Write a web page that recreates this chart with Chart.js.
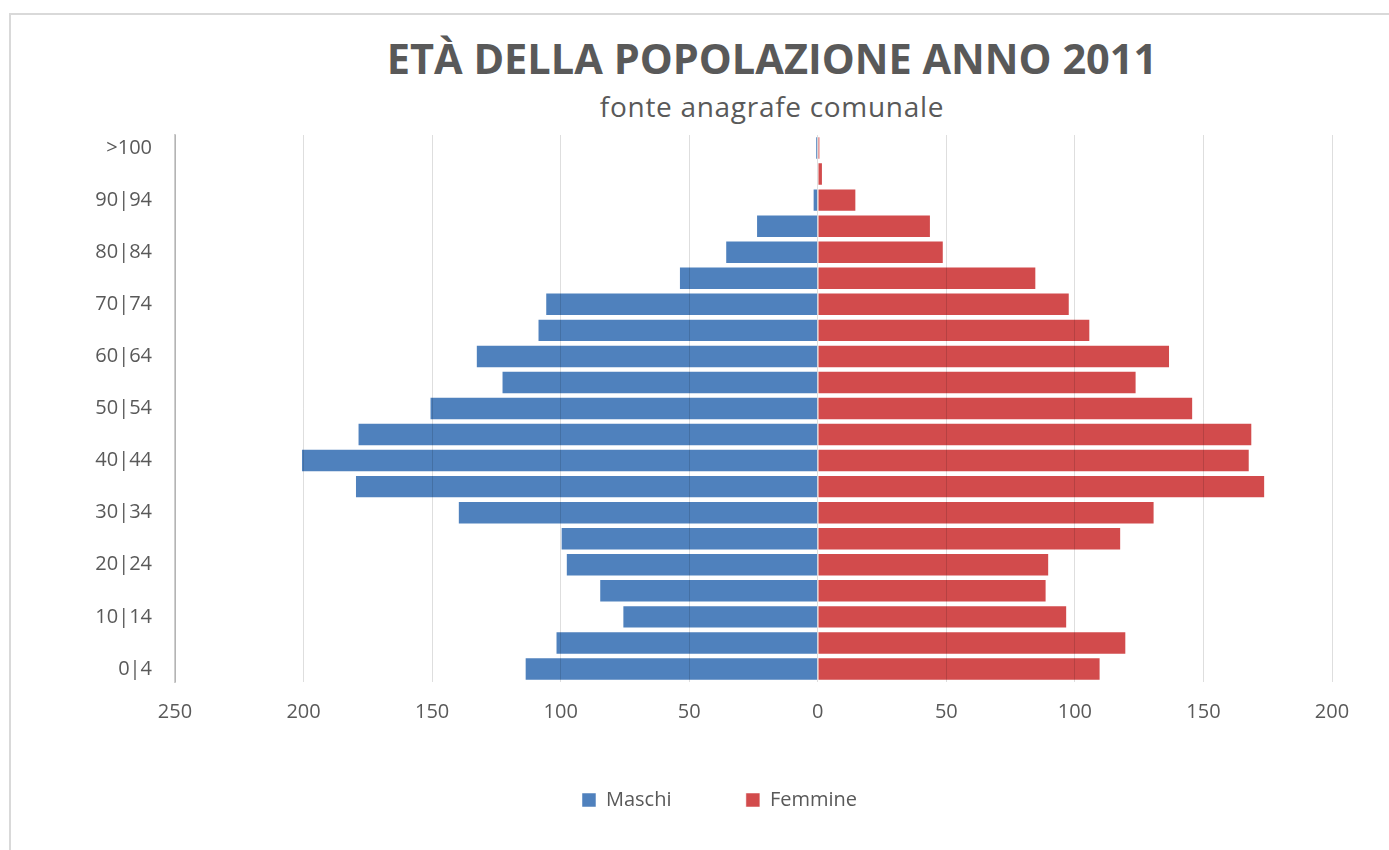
<!DOCTYPE html>
<html>
<head>
<meta charset="utf-8">
<script src="https://cdn.jsdelivr.net/npm/chart.js@4.4.1/dist/chart.umd.min.js"></script>
<style>
  html, body { margin: 0; padding: 0; background: #fff; overflow: hidden; }
  body { width: 1389px; height: 850px; position: relative; }
  #frame { position: absolute; left: 9px; top: 13px; width: 1500px; height: 900px; border: 2px solid #d9d9d9; }
  #chart { position: absolute; left: 0; top: 0; }
  .title { position: absolute; left: 772px; transform: translateX(-50%); white-space: nowrap; color: #595959; font-family: "Open Sans", sans-serif; }
  #t1 { top: 30px; font-size: 41.5px; font-weight: 700; }
  #t2 { top: 87px; font-size: 28px; letter-spacing: 0.7px; }
</style>
</head>
<body>
<div id="frame"></div>
<div class="title" id="t1">ETÀ DELLA POPOLAZIONE ANNO 2011</div>
<div class="title" id="t2">fonte anagrafe comunale</div>
<canvas id="chart" width="1389" height="850"></canvas>
<script>
const ageGroups = ['0|4', '5|9', '10|14', '15|19', '20|24', '25|29', '30|34', '35|39', '40|44', '45|49',
    '50|54', '55|59', '60|64', '65|69', '70|74', '75|79', '80|84', '85|89', '90|94', '95|99', '>100'];
const maschi = [114, 102, 76, 85, 98, 100, 140, 180, 201, 179, 151, 123, 133, 109, 106, 54, 36, 24, 2, 0, 1];
const femmine = [110, 120, 97, 89, 90, 118, 131, 174, 168, 169, 146, 124, 137, 106, 98, 85, 49, 44, 15, 2, 1];
const xTicks = [-250, -200, -150, -100, -50, 0, 50, 100, 150, 200];

const textColor = '#595959';

const ctx = document.getElementById('chart').getContext('2d');
const pyramid = new Chart(ctx, {
    type: 'bar',
    data: {
        labels: ageGroups,
        datasets: [{
            label: 'Maschi',
            data: maschi.map(v => -v),
            backgroundColor: 'rgb(79, 129, 189)',
            borderColor: 'rgba(255, 255, 255, 0.5)',
            borderWidth: 1,
            barPercentage: 0.9,
            categoryPercentage: 1
        }, {
            label: 'Femmine',
            data: femmine,
            backgroundColor: 'rgb(210, 75, 76)',
            borderColor: 'rgba(255, 255, 255, 0.5)',
            borderWidth: 1,
            barPercentage: 0.9,
            categoryPercentage: 1
        }]
    },
    options: {
        indexAxis: 'y',
        responsive: false,
        animation: false,
        devicePixelRatio: 1,
        layout: {
            padding: { left: 62, right: 12, top: 135, bottom: 30 }
        },
        scales: {
            x: {
                stacked: true,
                min: -250,
                max: 200,
                afterBuildTicks: scale => {
                    scale.ticks = xTicks.map(v => ({ value: v }));
                },
                afterFit: scale => { scale.height = 44; },
                grid: {
                    color: 'rgba(0, 0, 0, 0.13)',
                    lineWidth: 1,
                    drawTicks: false,
                    z: 1
                },
                border: { display: false },
                ticks: {
                    color: textColor,
                    padding: 18,
                    font: { family: 'Open Sans', size: 20 },
                    callback: value => Math.abs(value)
                }
            },
            y: {
                stacked: true,
                reverse: true,
                afterFit: scale => { scale.width = 113; },
                grid: { display: false, drawTicks: false },
                border: { display: true, color: '#cfcfcf', width: 2 },
                ticks: {
                    color: textColor,
                    padding: 23,
                    autoSkip: false,
                    font: { family: 'Open Sans', size: 20 },
                    callback: function(value, index) {
                        return index % 2 === 0 ? this.getLabelForValue(value) : '';
                    }
                }
            },
            // empty right-hand axis, only reserves the space on the right of the plot
            spacer: {
                type: 'linear',
                position: 'right',
                afterFit: scale => { scale.width = 45; },
                grid: { display: false, drawTicks: false },
                border: { display: false },
                ticks: { display: false }
            }
        },
        plugins: {
            legend: {
                position: 'bottom',
                labels: {
                    color: textColor,
                    boxWidth: 14,
                    boxHeight: 14,
                    padding: 64,
                    font: { family: 'Open Sans', size: 20 },
                    generateLabels: chart => {
                        const items = Chart.defaults.plugins.legend.labels.generateLabels(chart);
                        // a bit of extra room after the first entry, like the original spacing
                        items[0].text = items[0].text + '  ';
                        return items;
                    }
                }
            },
            tooltip: { enabled: false }
        }
    }
});
</script>
</body>
</html>
